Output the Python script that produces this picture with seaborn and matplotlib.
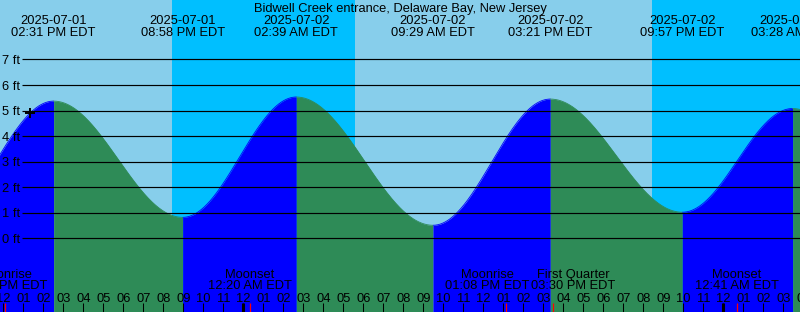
import numpy as np
import pandas as pd
import matplotlib
matplotlib.use("Agg")
import matplotlib.pyplot as plt
import seaborn as sns

# ---------------- data ----------------
title = "Bidwell Creek entrance, Delaware Bay, New Jersey"
# tide extremes (hours since 2025-07-01 00:00 EDT)
ext_dates = ["2025-07-01", "2025-07-01", "2025-07-02", "2025-07-02",
             "2025-07-02", "2025-07-02", "2025-07-03"]
ext_times = ["02:31 PM EDT", "08:58 PM EDT", "02:39 AM EDT", "09:29 AM EDT",
             "03:21 PM EDT", "09:57 PM EDT", "03:28 AM EDT"]
ext_hours = [14.517, 20.967, 26.650, 33.483, 39.350, 45.950, 51.467]
ext_heights = [5.37, 0.82, 5.53, 0.51, 5.45, 1.02, 5.08]
# neighbouring extremes just outside the window
prev_hour, prev_height = 8.80, 0.75
next_hour, next_height = 57.90, 0.40

# sun: daylight intervals (hours)
day_start = [0.0, 29.585]
day_end = [20.435, 44.435]

# moon events
moon_names = ["Moonrise", "Moonset", "Moonrise", "First Quarter", "Moonset"]
moon_times = ["12:05 PM EDT", "12:20 AM EDT", "01:08 PM EDT", "03:30 PM EDT", "12:41 AM EDT"]
moon_hours = [12.083, 24.333, 37.133, 39.500, 48.683]

midnights = [24, 48]
hour_ticks = list(range(12, 53))
ft_levels = [0, 1, 2, 3, 4, 5, 6, 7]
now_hour, now_height = 13.335, 4.90

# ---------------- layout ----------------
W, H, DPI = 800, 312, 100
X0, X1 = 11.835, 51.835
PX_PER_HR = 20.0
PX_PER_FT = 25.55
Y0_PX = 238.3  # pixel row of 0 ft
ylo = (Y0_PX - H) / PX_PER_FT
yhi = Y0_PX / PX_PER_FT
moon_label_shift_px = [0, 0, -19, 20, 0]  # labels pushed apart to avoid overlap

LIGHT = "#87CEEB"
DARK = "#00BFFF"
RISE = "#0000FF"
FALL = "#2E8B57"

sns.set_style("white")
plt.rcParams["font.family"] = ["Liberation Sans", "DejaVu Sans"]
FS = 9.3

fig = plt.figure(figsize=(W / DPI, H / DPI), dpi=DPI)
ax = fig.add_axes([0, 0, 1, 1])

# background: night everywhere, day intervals lighter
ax.axvspan(X0, X1, color=DARK, lw=0, zorder=0)
for a, b in zip(day_start, day_end):
    ax.axvspan(a, b, color=LIGHT, lw=0, zorder=0)

# tide curve between extremes
all_h = [prev_hour] + ext_hours + [next_hour]
all_v = [prev_height] + ext_heights + [next_height]
rows = []
for i in range(len(all_h) - 1):
    t = np.linspace(all_h[i], all_h[i + 1], 200)
    f = (t - all_h[i]) / (all_h[i + 1] - all_h[i])
    v = all_v[i] + (all_v[i + 1] - all_v[i]) * (1 - np.cos(np.pi * f)) / 2
    phase = "rise" if all_v[i + 1] > all_v[i] else "fall"
    ax.fill_between(t, v, ylo, color=RISE if phase == "rise" else FALL, lw=0, zorder=1)
    for tt, vv in zip(t, v):
        rows.append((tt, vv, phase, i))
df = pd.DataFrame(rows, columns=["t", "h", "phase", "seg"])
sns.lineplot(data=df, x="t", y="h", hue="phase", units="seg", estimator=None,
             palette={"rise": RISE, "fall": FALL}, legend=False, lw=0.6, ax=ax, zorder=2)
ax.set_xlim(X0, X1)
ax.set_ylim(ylo, yhi)
ax.axis("off")

# gridlines + labels
gx0 = X0 + 22 / PX_PER_HR
for lv in ft_levels:
    ax.plot([gx0, X1], [lv, lv], color="black", lw=0.85, zorder=3, solid_capstyle="butt")
    ax.text(X0 + 2.5 / PX_PER_HR, lv - 4.7 / PX_PER_FT, f"{lv} ft", fontsize=FS,
            ha="left", va="baseline", color="black", zorder=7)

# current-time marker
ax.plot([now_hour], [now_height], marker="+", color="black", ms=7.5, mew=1.4, zorder=5)

xt = ax.get_xaxis_transform()


def yax(px):
    return 1 - px / H


# title and extreme labels
ax.text((X0 + X1) / 2, yax(11.7), title, transform=xt, ha="center", va="baseline",
        fontsize=FS, color="black", zorder=7)
for d, s, t in zip(ext_dates, ext_times, ext_hours):
    ax.text(t, yax(24.0), d, transform=xt, ha="center", va="baseline", fontsize=FS,
            color="black", zorder=7)
    ax.text(t, yax(36.0), s, transform=xt, ha="center", va="baseline", fontsize=FS,
            color="black", zorder=7)

# hour ticks and labels
tick_top = yax(303)
for hr in hour_ticks:
    lab = hr % 12
    lab = 12 if lab == 0 else lab
    ax.text(hr, yax(302), f"{lab:02d}", transform=xt, ha="center", va="baseline",
            fontsize=FS, color="black", zorder=7)
    ax.vlines(hr, 0, tick_top, transform=xt, color="black", lw=0.75, zorder=5)
for m in midnights:
    ax.vlines(m, 0, tick_top, transform=xt, color="black", lw=2.2, zorder=5)

# moon events
for n, s, t, sh in zip(moon_names, moon_times, moon_hours, moon_label_shift_px):
    lx = t + sh / PX_PER_HR
    ax.text(lx, yax(278.3), n, transform=xt, ha="center", va="baseline", fontsize=FS,
            color="black", zorder=7)
    ax.text(lx, yax(289.3), s, transform=xt, ha="center", va="baseline", fontsize=FS,
            color="black", zorder=7)
    ax.vlines(t, 0, tick_top, transform=xt, color="red", lw=0.9, zorder=6)

fig.savefig("out.png", dpi=DPI)
